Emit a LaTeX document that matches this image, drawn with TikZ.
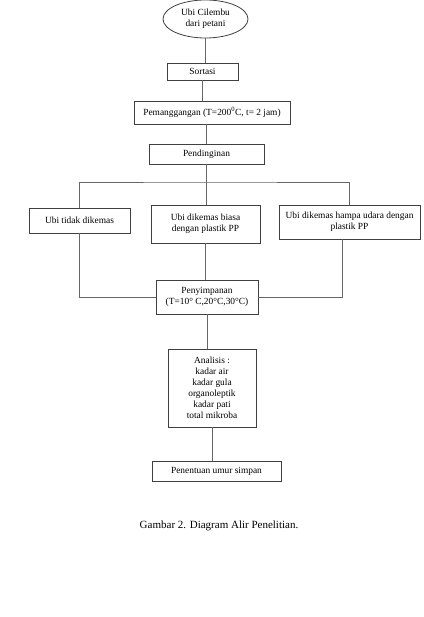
\documentclass[tikz,border=0pt]{standalone}
\usepackage{fontspec}
\setmainfont{Liberation Serif}
\usetikzlibrary{positioning}
\usetikzlibrary{shapes.geometric}
\tikzset{kotak/.style={draw=black!75, line width=0.8pt, inner sep=1pt, align=center, font=\fontsize{9.4}{11}\selectfont}}
\tikzset{garis/.style={draw=black!60, line width=0.9pt}}

\begin{document}
\begin{tikzpicture}[x=1pt,y=-1pt]
	\useasboundingbox (0,0) rectangle (423,617);
	\node[kotak, ellipse, minimum width=85pt, minimum height=38pt] at (205.5,19) (ubi) {Ubi Cilembu\\dari petani};
	\node[kotak, minimum width=71pt, minimum height=17pt] at (202.5,71.5) (sortasi) {Sortasi};
	\node[kotak, minimum width=156pt, minimum height=23pt] at (212,112.5) (panggang) {Pemanggangan (T=200\textsuperscript{0}C, t= 2 jam)};
	\node[kotak, minimum width=115pt, minimum height=20pt] at (206.5,154) (dingin) {Pendinginan};
	
	\node[kotak, minimum width=101pt, minimum height=25pt] at (79.5,220.5) (tidak) {Ubi tidak dikemas};
	\node[kotak, minimum width=109pt, minimum height=38pt] at (205.5,224) (biasa) {Ubi dikemas biasa\\dengan plastik PP};
	\node[kotak, minimum width=141pt, minimum height=34pt] at (349.5,222) (hampa) {Ubi dikemas hampa udara dengan\\plastik PP};
	
	\node[kotak, minimum width=102pt, minimum height=34pt] at (207,297) (simpan) {Penyimpanan\\(T=10° C,20°C,30°C)};
	\node[kotak, minimum width=88pt, minimum height=78pt] at (212,388) (analisis) {Analisis :\\kadar air\\kadar gula\\organoleptik\\kadar pati\\total mikroba};
	\node[kotak, minimum width=129pt, minimum height=20pt] at (216.5,471) (umur) {Penentuan umur simpan};
	
	\node[font=\fontsize{11}{13}\selectfont] at (219,526) (judul) {Gambar 2. Diagram Alir Penelitian.};
	
	\coordinate (cabang) at (206,182);
	
	\draw[garis] (ubi.south) -- (ubi.south |- sortasi.north);
	\draw[garis] (sortasi.south) -- (sortasi.south |- panggang.north);
	\draw[garis] (dingin.north |- panggang.south) -- (dingin.north);
	\draw[garis] (dingin.south) -- (dingin.south |- biasa.north);
	\draw[garis] (tidak.north) |- (cabang) -| (hampa.north);
	
	\draw[garis] (tidak.south) |- (simpan.west);
	\draw[garis] ([xshift=-7pt]hampa.south) |- (simpan.east);
	\draw[garis] (biasa.south) -- (biasa.south |- simpan.north);
	\draw[garis] (simpan.south) -- (simpan.south |- analisis.north);
	\draw[garis] (analisis.south) -- (analisis.south |- umur.north);
\end{tikzpicture}
\end{document}
